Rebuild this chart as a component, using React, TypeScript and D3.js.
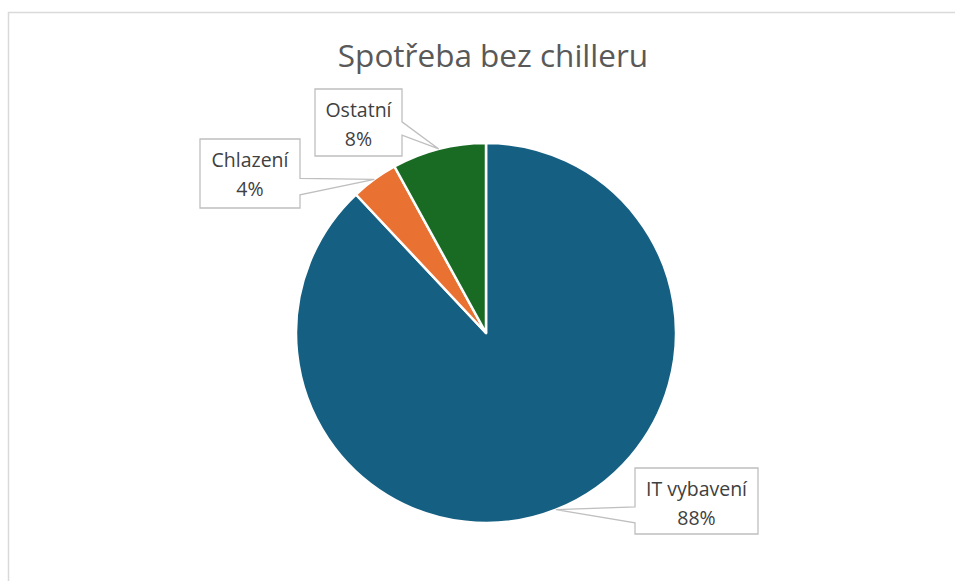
import React, {useEffect, useRef} from "react";
import * as d3 from 'd3';

const categories = ["IT vybavení", "Chlazení", "Ostatní"];
const values = [88, 4, 8];
const percentLabels = ["88%", "4%", "8%"];
const colors = ["#156082", "#E97132", "#196B24"];
const chartTitle = "Spotřeba bez chilleru";

// label boxes (callouts): top-left position, size, wedge side and wedge span as fraction of box height
const calloutLayout = [
    { x: 635, y: 468, w: 123, h: 66, side: "left", wedge: [0.59, 0.83] },
    { x: 200, y: 139, w: 100, h: 69, side: "right", wedge: [0.57, 0.81] },
    { x: 315, y: 89, w: 87, h: 67, side: "right", wedge: [0.49, 0.69] },
];

const App: React.FC = () => {
    const svgRef = useRef<SVGSVGElement | null>(null);

    useEffect(() => {
        if (!svgRef.current) return;

        const width = 955;
        const height = 581;
        const cx = 486;
        const cy = 333;
        const radius = 190;
        const font = "Aptos, 'Open Sans', 'Noto Sans', sans-serif";

        const root = d3.select(svgRef.current)
            .attr("width", width)
            .attr("height", height);
        root.selectAll("*").remove();

        // chart frame (only top and left edges visible)
        root.append("path")
            .attr("d", `M8.5,${height} V12.5 H${width}`)
            .attr("fill", "none")
            .attr("stroke", "#d9d9d9")
            .attr("stroke-width", 1.5);

        root.append("text")
            .attr("x", 493)
            .attr("y", 67)
            .attr("text-anchor", "middle")
            .style("font-family", font)
            .style("font-size", "31.5px")
            .attr("fill", "#595959")
            .text(chartTitle);

        const data = categories.map((c, i) => ({ name: c, value: values[i], i }));

        const pie = d3.pie<any>()
            .value(d => d.value)
            .sort(null);

        const arcs = pie(data);

        const arc = d3.arc<any>()
            .innerRadius(0)
            .outerRadius(radius);

        const g = root.append("g")
            .attr("transform", `translate(${cx},${cy})`);

        g.selectAll("path")
            .data(arcs)
            .enter()
            .append("path")
            .attr("d", arc)
            .attr("fill", d => colors[d.data.i])
            .attr("stroke", "#ffffff")
            .attr("stroke-width", 2.5)
            .attr("stroke-linejoin", "round");

        // callouts
        arcs.forEach(a => {
            const mid = (a.startAngle + a.endAngle) / 2;
            const ax = cx + radius * Math.sin(mid);
            const ay = cy - radius * Math.cos(mid);
            const L = calloutLayout[a.data.i];
            const x0 = L.x, x1 = L.x + L.w, y0 = L.y, y1 = L.y + L.h;
            const w1 = y0 + L.h * L.wedge[0];
            const w2 = y0 + L.h * L.wedge[1];
            const p = L.side === "right"
                ? `M${x0},${y0} H${x1} V${w1} L${ax},${ay} L${x1},${w2} V${y1} H${x0} Z`
                : `M${x0},${y0} H${x1} V${y1} H${x0} V${w2} L${ax},${ay} L${x0},${w1} Z`;
            root.append("path")
                .attr("d", p)
                .attr("fill", "#ffffff")
                .attr("stroke", "#bfbfbf")
                .attr("stroke-width", 1.3);

            const tx = x0 + L.w / 2;
            root.append("text")
                .attr("x", tx)
                .attr("y", y0 + 28)
                .attr("text-anchor", "middle")
                .style("font-family", font)
                .style("font-size", "19.5px")
                .attr("fill", "#404040")
                .text(a.data.name);
            root.append("text")
                .attr("x", tx)
                .attr("y", y0 + 57)
                .attr("text-anchor", "middle")
                .style("font-family", font)
                .style("font-size", "19.5px")
                .attr("fill", "#404040")
                .text(percentLabels[a.data.i]);
        });

    }, []);

    return (
        <svg ref={svgRef} style={{ position: "absolute", left: 0, top: 0 }}></svg>
    );
}

export default App;
